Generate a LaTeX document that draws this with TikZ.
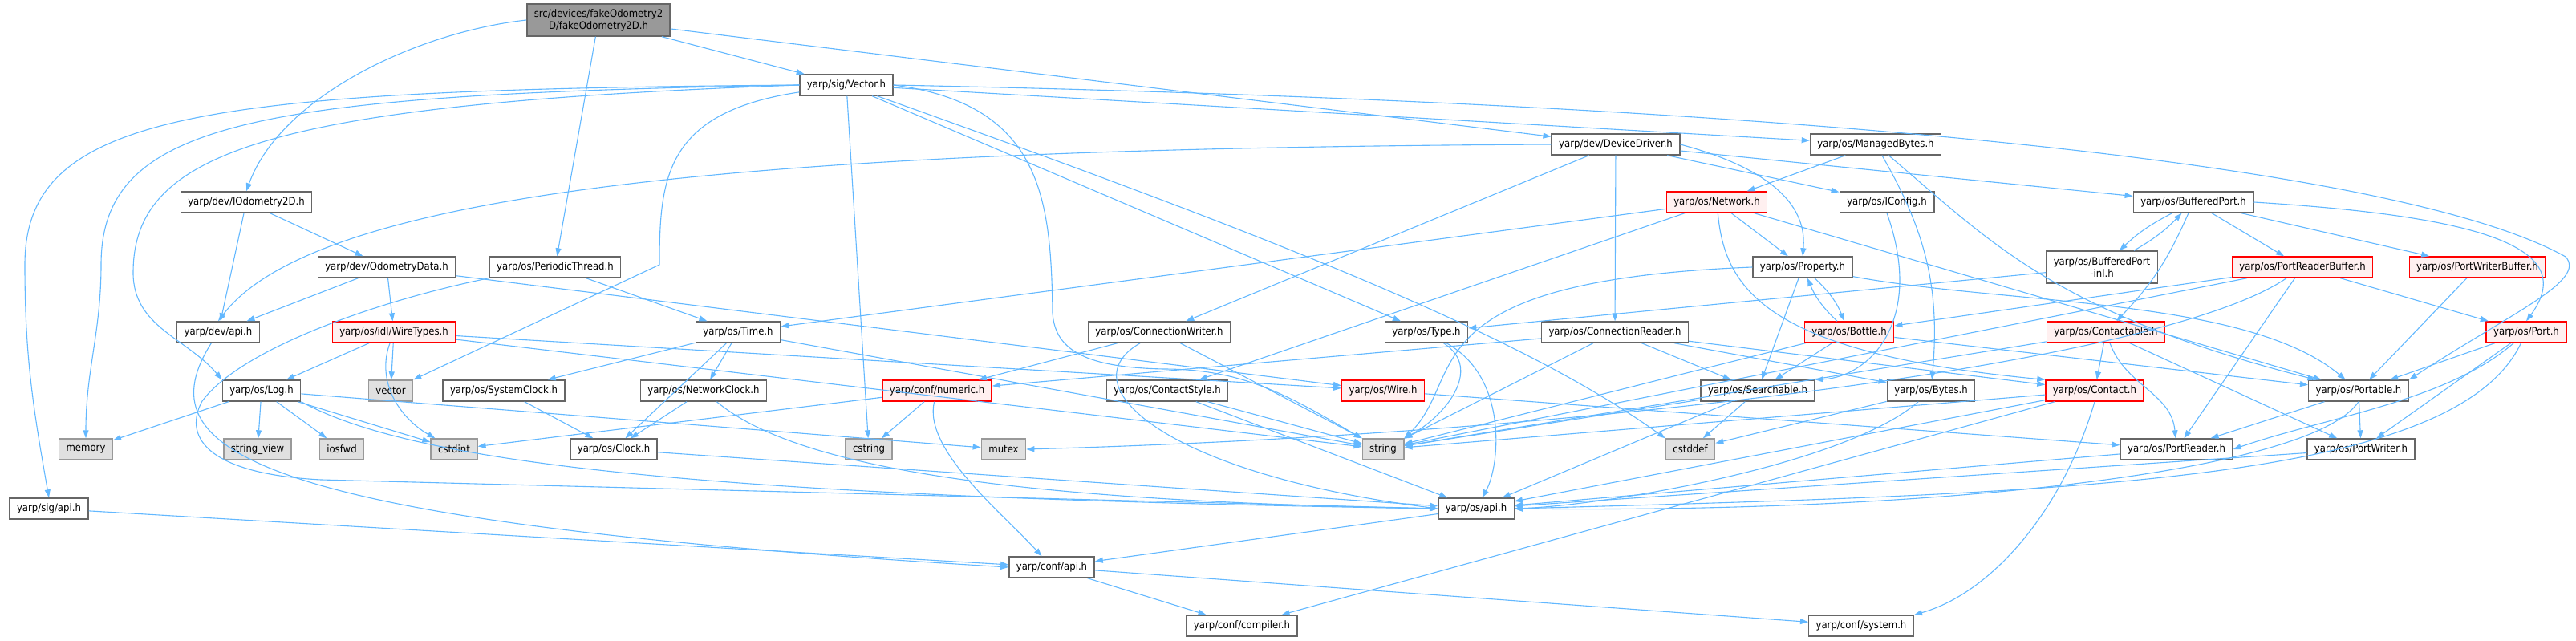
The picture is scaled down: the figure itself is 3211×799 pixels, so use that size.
\documentclass[tikz,border=0pt]{standalone}
\usepackage{fontspec}
\setmainfont{DejaVu Sans Condensed}
\usetikzlibrary{arrows.meta}

\definecolor{edgeblue}{HTML}{63B8FF}
\definecolor{redfill}{HTML}{FFF0F0}

\tikzset{
  hdr/.style={draw=black!60, fill=white, line width=1.4pt, minimum height=26pt,
    inner xsep=9pt, inner ysep=0pt, font=\fontsize{13}{15}\selectfont},
  sys/.style={hdr, draw=black!40, fill=black!12},
  trunc/.style={hdr, draw=red, fill=redfill},
  top/.style={hdr, fill=black!40, align=center, minimum height=40pt},
  inc/.style={->, draw=edgeblue, line width=1.1pt},
}

\begin{document}
\begin{tikzpicture}[x=1pt, y=1pt, >={Stealth[length=10pt, width=7pt, inset=0pt]}]
  \useasboundingbox (0,0) rectangle (3211,-799);

  % headers, row by row
  \node[top] (root) at (746,-25) {src/devices/fakeOdometry2\\D/fakeOdometry2D.h};
  \node[hdr] (vec) at (1055,-106) {yarp/sig/Vector.h};
  \node[hdr] (ddrv) at (2014,-180) {yarp/dev/DeviceDriver.h};
  \node[hdr] (mbytes) at (2338,-180) {yarp/os/ManagedBytes.h};
  \node[hdr] (iodom) at (307,-252) {yarp/dev/IOdometry2D.h};
  \node[trunc] (netw) at (2140,-252) {yarp/os/Network.h};
  \node[hdr] (iconf) at (2352,-252) {yarp/os/IConfig.h};
  \node[hdr] (bport) at (2734,-252) {yarp/os/BufferedPort.h};
  \node[hdr] (odata) at (482,-333) {yarp/dev/OdometryData.h};
  \node[hdr] (pthr) at (692,-333) {yarp/os/PeriodicThread.h};
  \node[hdr] (prop) at (2247,-333) {yarp/os/Property.h};
  \node[hdr, align=center, minimum height=40pt] (bpinl) at (2620,-333) {yarp/os/BufferedPort\\-inl.h};
  \node[trunc] (prbuf) at (2870,-333) {yarp/os/PortReaderBuffer.h};
  \node[trunc] (pwbuf) at (3088,-333) {yarp/os/PortWriterBuffer.h};
  \node[hdr] (devapi) at (272,-414) {yarp/dev/api.h};
  \node[trunc] (wtypes) at (491,-414) {yarp/os/idl/WireTypes.h};
  \node[hdr] (time) at (920,-414) {yarp/os/Time.h};
  \node[hdr] (cwriter) at (1445,-414) {yarp/os/ConnectionWriter.h};
  \node[hdr] (type) at (1778,-414) {yarp/os/Type.h};
  \node[hdr] (creader) at (2013,-414) {yarp/os/ConnectionReader.h};
  \node[trunc] (bottle) at (2305,-414) {yarp/os/Bottle.h};
  \node[trunc] (ctable) at (2625,-414) {yarp/os/Contactable.h};
  \node[trunc] (port) at (3149,-414) {yarp/os/Port.h};
  \node[hdr] (log) at (326,-487) {yarp/os/Log.h};
  \node[sys] (vector) at (487,-487) {vector};
  \node[hdr] (sysclk) at (628,-487) {yarp/os/SystemClock.h};
  \node[hdr] (netclk) at (877,-487) {yarp/os/NetworkClock.h};
  \node[trunc] (numeric) at (1168,-487) {yarp/conf/numeric.h};
  \node[hdr] (cstyle) at (1455,-487) {yarp/os/ContactStyle.h};
  \node[trunc] (wire) at (1724,-487) {yarp/os/Wire.h};
  \node[hdr] (search) at (2191,-487) {yarp/os/Searchable.h};
  \node[hdr] (bytes) at (2407,-487) {yarp/os/Bytes.h};
  \node[trunc] (contact) at (2611,-487) {yarp/os/Contact.h};
  \node[hdr] (portable) at (2940,-487) {yarp/os/Portable.h};
  \node[sys] (memory) at (107,-560) {memory};
  \node[sys] (strview) at (321,-560) {string\_view};
  \node[sys] (iosfwd) at (426,-560) {iosfwd};
  \node[sys] (cstdint) at (566,-560) {cstdint};
  \node[hdr] (clock) at (765,-560) {yarp/os/Clock.h};
  \node[sys] (cstring) at (1083,-560) {cstring};
  \node[sys] (mutex) at (1251,-560) {mutex};
  \node[sys] (string) at (1724,-560) {string};
  \node[sys] (cstddef) at (2107,-560) {cstddef};
  \node[hdr] (preader) at (2713,-560) {yarp/os/PortReader.h};
  \node[hdr] (pwriter) at (2943,-560) {yarp/os/PortWriter.h};
  \node[hdr] (sigapi) at (61,-634) {yarp/sig/api.h};
  \node[hdr] (osapi) at (1840,-634) {yarp/os/api.h};
  \node[hdr] (confapi) at (1311,-707) {yarp/conf/api.h};
  \node[hdr] (compiler) at (1548,-780) {yarp/conf/compiler.h};
  \node[hdr] (system) at (2320,-780) {yarp/conf/system.h};

  % includes of the file itself
  \draw[inc] (root.west) .. controls (520,-40) and (350,-120) .. (iodom.north);
  \draw[inc] (root) -- (pthr);
  \draw[inc] (root) -- (vec);
  \draw[inc] (root) -- (ddrv);

  % yarp/sig/Vector.h
  \draw[inc] (vec.west) .. controls (250,-112) and (31,-140) .. (31,-330) to[out=-90, in=100] (sigapi.north);
  \draw[inc] (vec.west) .. controls (320,-118) and (126,-150) .. (126,-330) to[out=-90, in=90] (memory.north);
  \draw[inc] (vec.west) .. controls (330,-130) and (166,-190) .. (166,-340) to[out=-90, in=130] (log.north west);
  \draw[inc] (vec) .. controls (830,-140) and (822,-220) .. (822,-330) -- (vector.north east);
  \draw[inc] (vec) -- (cstring);
  \draw[inc] (vec.east) .. controls (1300,-130) and (1310,-250) .. (1312,-390) .. controls (1315,-440) and (1360,-458) .. (1450,-460) to[out=0, in=150] (string.north west);
  \draw[inc] (vec) -- (type);
  \draw[inc] (vec) .. controls (1600,-300) and (1900,-420) .. (cstddef.north west);
  \draw[inc] (vec) -- (mbytes);
  \draw[inc] (vec.east) .. controls (2300,-130) and (3000,-210) .. (3198,-320) .. controls (3225,-350) and (3130,-390) .. (portable.north east);

  % yarp/dev/DeviceDriver.h
  \draw[inc] (ddrv.west) .. controls (1000,-185) and (400,-230) .. (devapi.north);
  \draw[inc] (ddrv) -- (cwriter);
  \draw[inc] (ddrv) -- (creader);
  \draw[inc] (ddrv) -- (iconf);
  \draw[inc] (ddrv.east) to[out=-15, in=85] (prop.north);
  \draw[inc] (ddrv) -- (bport);

  % yarp/os/ManagedBytes.h
  \draw[inc] (mbytes) -- (netw);
  \draw[inc] (mbytes) to[out=-60, in=85] (bytes);
  \draw[inc] (mbytes) .. controls (2480,-300) and (2560,-390) .. (portable);

  \draw[inc] (iodom) -- (devapi);
  \draw[inc] (iodom) -- (odata);
  \draw[inc] (odata) -- (devapi);
  \draw[inc] (odata) -- (wtypes);
  \draw[inc] (odata) -- (wire);
  \draw[inc] (pthr) -- (time);
  \draw[inc] (pthr.south west) .. controls (470,-375) and (300,-435) .. (252,-500) .. controls (230,-540) and (250,-590) .. (400,-598) -- (osapi.west);

  % yarp/os/Network.h
  \draw[inc] (netw) -- (time);
  \draw[inc] (netw) -- (cstyle);
  \draw[inc] (netw) -- (prop);
  \draw[inc] (netw) .. controls (2150,-360) and (2200,-440) .. (contact.north west);
  \draw[inc] (netw) -- (portable);
  \draw[inc] (iconf.south) .. controls (2400,-400) and (2330,-470) .. (search.north east);

  % yarp/os/BufferedPort.h
  \draw[inc] (bport) to[bend right=8] (bpinl);
  \draw[inc] (bpinl) to[bend right=8] (bport);
  \draw[inc] (bport) -- (prbuf);
  \draw[inc] (bport) -- (pwbuf);
  \draw[inc] (bport.east) .. controls (3100,-270) and (3215,-310) .. (port.north);
  \draw[inc] (bport) to[bend left=10] (ctable);
  \draw[inc] (bpinl) -- (type);

  % yarp/os/Property.h and yarp/os/Bottle.h
  \draw[inc] (prop) -- (search);
  \draw[inc] (prop) to[bend left=12] (bottle);
  \draw[inc] (bottle) to[bend left=12] (prop);
  \draw[inc] (prop.west) .. controls (1750,-350) and (1830,-470) .. (string.north east);
  \draw[inc] (prop) .. controls (2500,-380) and (2800,-370) .. (portable);
  \draw[inc] (bottle) -- (search);
  \draw[inc] (bottle) -- (string);
  \draw[inc] (bottle) -- (portable);

  % buffers
  \draw[inc] (prbuf) -- (bottle);
  \draw[inc] (prbuf) -- (preader);
  \draw[inc] (prbuf) -- (port);
  \draw[inc] (prbuf) -- (string);
  \draw[inc] (prbuf) .. controls (2700,-450) and (2000,-540) .. (mutex.east);
  \draw[inc] (pwbuf) -- (portable);

  \draw[inc] (devapi) .. controls (180,-560) and (300,-650) .. (confapi.west);
  \draw[inc] (wtypes) -- (log);
  \draw[inc] (wtypes) -- (vector);
  \draw[inc] (wtypes) to[out=-110, in=150] (cstdint);
  \draw[inc] (wtypes) -- (string);
  \draw[inc] (wtypes) -- (wire);

  % yarp/os/Time.h and clocks
  \draw[inc] (time) -- (clock);
  \draw[inc] (time) -- (netclk);
  \draw[inc] (time) -- (sysclk);
  \draw[inc] (time) -- (string);
  \draw[inc] (sysclk) -- (clock);
  \draw[inc] (netclk) -- (clock);
  \draw[inc] (netclk) .. controls (1000,-590) and (1300,-625) .. (osapi.west);
  \draw[inc] (clock) -- (osapi);

  % connection headers
  \draw[inc] (cwriter) -- (numeric);
  \draw[inc] (cwriter) .. controls (1330,-480) and (1450,-590) .. (osapi.west);
  \draw[inc] (cwriter) -- (string);
  \draw[inc] (creader) -- (numeric);
  \draw[inc] (creader) -- (search);
  \draw[inc] (creader) -- (contact);
  \draw[inc] (creader) -- (bytes);
  \draw[inc] (creader) -- (string);
  \draw[inc] (type) .. controls (1850,-460) and (1800,-520) .. (string);
  \draw[inc] (type) .. controls (1880,-470) and (1870,-580) .. (osapi);

  % yarp/os/Contactable.h and yarp/os/Port.h
  \draw[inc] (ctable) -- (contact);
  \draw[inc] (ctable) to[out=-70, in=95] (preader);
  \draw[inc] (ctable) -- (pwriter);
  \draw[inc] (ctable) -- (string);
  \draw[inc] (port) -- (portable);
  \draw[inc] (port) .. controls (3050,-500) and (2900,-520) .. (preader.east);
  \draw[inc] (port) -- (pwriter);
  \draw[inc] (port) .. controls (3060,-600) and (2600,-615) .. (osapi.east);

  % yarp/os/Log.h
  \draw[inc] (log) -- (memory);
  \draw[inc] (log) -- (strview);
  \draw[inc] (log) -- (iosfwd);
  \draw[inc] (log) -- (cstdint);
  \draw[inc] (log) -- (mutex);
  \draw[inc] (log.south east) .. controls (520,-580) and (900,-620) .. (osapi.west);

  \draw[inc] (numeric) -- (cstring);
  \draw[inc] (numeric) -- (cstdint);
  \draw[inc] (numeric) .. controls (1150,-560) and (1250,-640) .. (confapi);
  \draw[inc] (cstyle) -- (string);
  \draw[inc] (cstyle) -- (osapi);
  \draw[inc] (wire) -- (preader);
  \draw[inc] (search) -- (string);
  \draw[inc] (search) -- (cstddef);
  \draw[inc] (search) -- (osapi);
  \draw[inc] (bytes) -- (cstddef);
  \draw[inc] (bytes) .. controls (2300,-580) and (2000,-630) .. (osapi.east);
  \draw[inc] (contact) -- (string);
  \draw[inc] (contact) -- (osapi);
  \draw[inc] (contact.south) .. controls (2570,-640) and (2480,-740) .. (system.north east);
  \draw[inc] (contact) -- (compiler);
  \draw[inc] (portable) -- (preader);
  \draw[inc] (portable) -- (pwriter);
  \draw[inc] (portable.south) .. controls (2880,-590) and (2400,-640) .. (osapi.east);
  \draw[inc] (preader) -- (osapi);
  \draw[inc] (pwriter) -- (osapi);

  % configuration headers
  \draw[inc] (sigapi) -- (confapi);
  \draw[inc] (osapi) -- (confapi);
  \draw[inc] (confapi) -- (compiler);
  \draw[inc] (confapi) -- (system);
\end{tikzpicture}
\end{document}
